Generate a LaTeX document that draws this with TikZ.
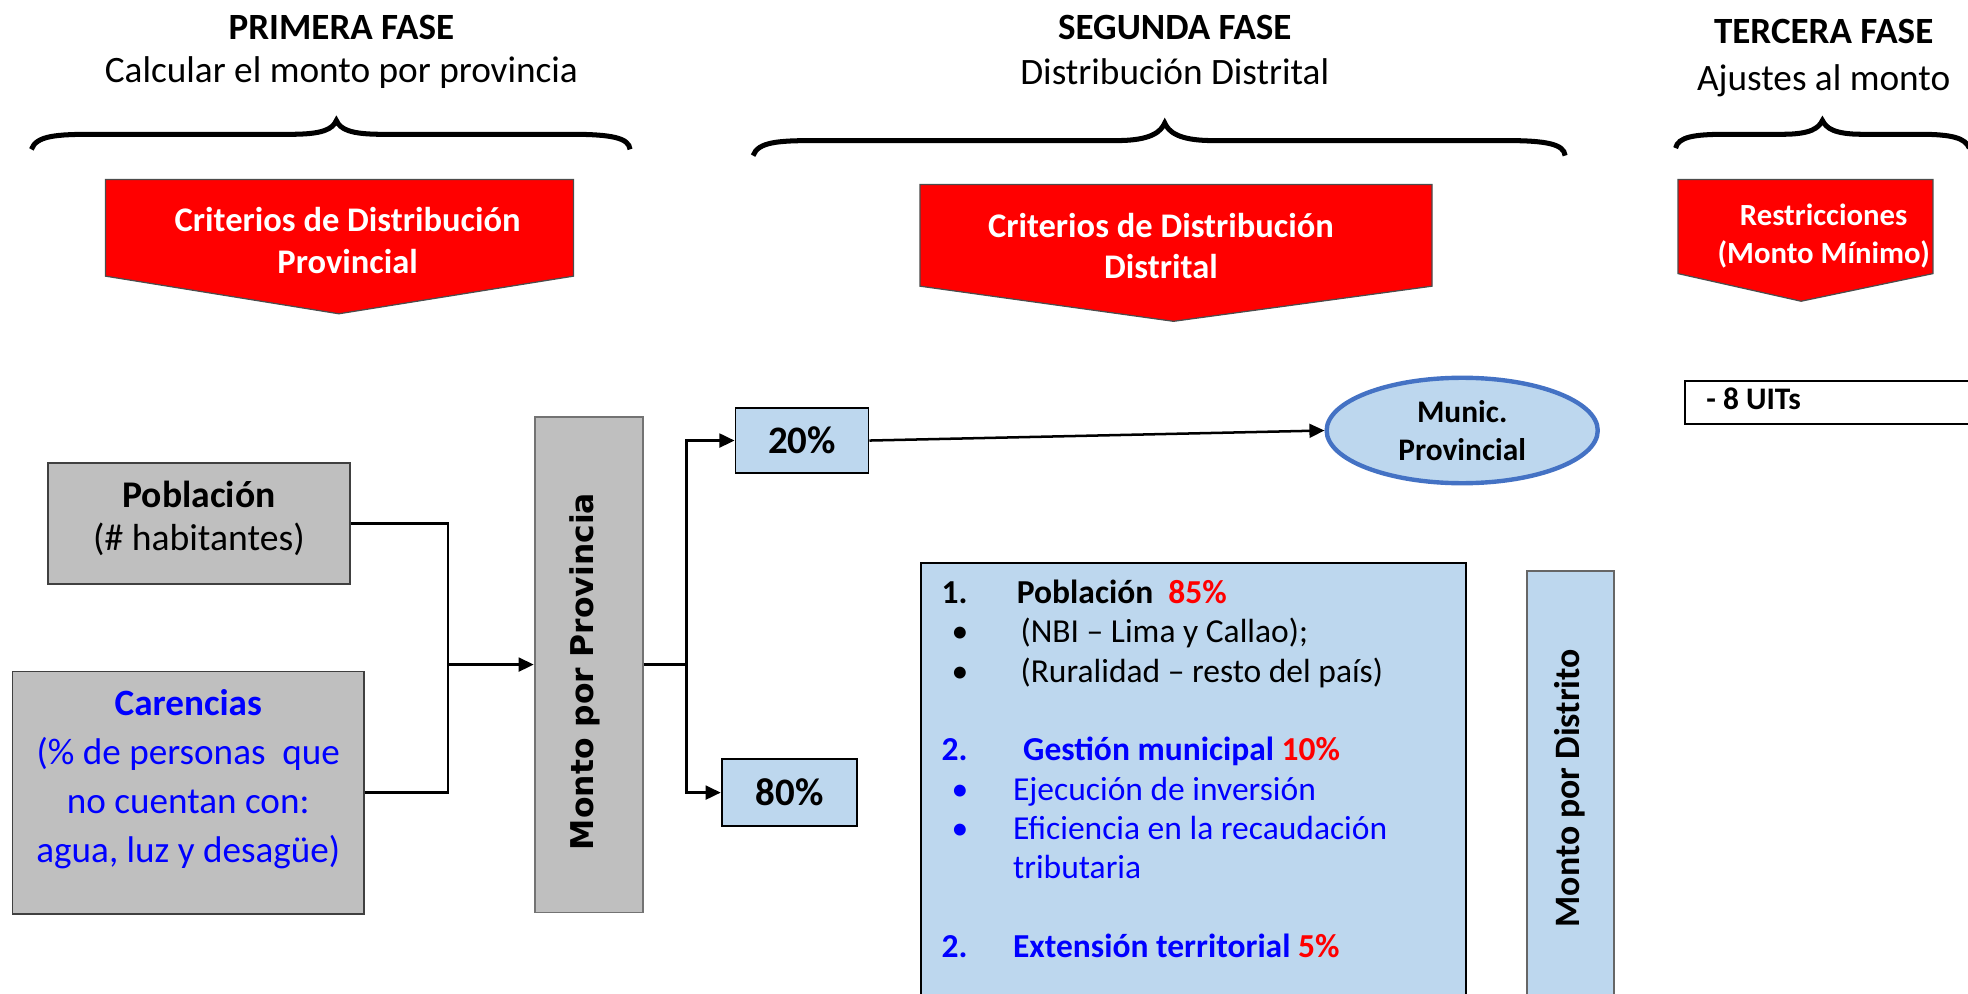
\documentclass[tikz,border=0pt]{standalone}
\usepackage{fontspec}
\setmainfont{Carlito}
\newfontfamily\dejavu{DejaVu Sans}
\usetikzlibrary{arrows.meta,shapes.geometric}
\definecolor{grayfill}{HTML}{BFBFBF}
\definecolor{lblue}{HTML}{BDD7EE}
\definecolor{eblue}{HTML}{4472C4}
\definecolor{pred}{HTML}{FF0000}
\definecolor{pblue}{HTML}{0000FF}
\newcommand{\fs}[2]{\fontsize{#1pt}{#2pt}\selectfont}
\begin{document}
\begin{tikzpicture}[x=1pt,y=-1pt,
  brace/.style={line width=4pt},
  redarrow/.style={fill=pred,draw=black!70,line width=1pt},
  redtext/.style={text=white,font=\fs{27.5}{33}\bfseries,align=center},
  graybox/.style={draw=black!75,fill=grayfill,line width=1.5pt,inner sep=0pt},
  bluebox/.style={draw=black,fill=lblue,line width=1.5pt,inner sep=0pt},
  conn/.style={line width=2pt},
  arr/.style={line width=2pt,-{Triangle[length=12pt,width=11pt]}},
  head/.style={font=\fs{29.5}{34}\bfseries},
  sub/.style={font=\fs{29.7}{34}}
]
\useasboundingbox (0,0) rectangle (1568,791.2);

% headers
\node[head] (h1) at (272,22) {PRIMERA FASE};
\node[sub] (s1) at (272,58) {Calcular el monto por provincia};
\node[head] (h2) at (936,22) {SEGUNDA FASE};
\node[sub] (s2) at (936,57) {Distribución Distrital};
\node[head] (h3) at (1453,25) {TERCERA FASE};
\node[sub] (s3) at (1453,64) {Ajustes al monto};

% braces
\draw[brace] (25,119) .. controls (29,108) and (45,107) .. (75,107) -- (232,107)
  .. controls (257,107) and (265,103) .. (268,96)
  .. controls (271,103) and (279,107) .. (304,107) -- (455,107)
  .. controls (488,107) and (501,110) .. (502,119);
\draw[brace] (600,124) .. controls (604,113) and (620,112) .. (650,112) -- (890,112)
  .. controls (917,112) and (925,105) .. (928,98)
  .. controls (931,105) and (939,112) .. (966,112) -- (1200,112)
  .. controls (1233,112) and (1246,115) .. (1247,124);
\draw[brace] (1335,118) .. controls (1337,109) and (1350,107) .. (1375,107) -- (1420,107)
  .. controls (1443,107) and (1449,102) .. (1452,96)
  .. controls (1455,102) and (1461,107) .. (1484,107) -- (1530,107)
  .. controls (1555,107) and (1566,110) .. (1569,118);

% red arrows
\draw[redarrow] (84,143) -- (457,143) -- (457,220) -- (270,250) -- (84,220) -- cycle;
\node[redtext] (r1) at (277,191.5) {Criterios de Distribución\\Provincial};
\draw[redarrow] (733,147) -- (1141,147) -- (1141,228) -- (935,256) -- (733,228) -- cycle;
\node[redtext] (r2) at (925,196) {Criterios de Distribución\\Distrital};
\draw[redarrow] (1337,143) -- (1540,143) -- (1540,218) -- (1435,240) -- (1337,218) -- cycle;
\node[redtext,font=\fs{24.5}{30}\bfseries] (r3) at (1453,188) {Restricciones\\(Monto Mínimo)};

% UIT box
\node[draw=black,line width=1.5pt,minimum width=240pt,minimum height=34pt,anchor=north west,inner sep=0pt] (uit) at (1342,303) {};
\node[font=\fs{25}{30}\bfseries,anchor=west] (uitt) at (1356,318) {- 8 UITs};

% left boxes
\node[graybox,minimum width=241pt,minimum height=96pt] (pob) at (158.5,417) {};
\node[font=\fs{30}{34},align=center] (pobt) at (158.5,413) {\textbf{Población}\\(\# habitantes)};
\node[graybox,minimum width=280pt,minimum height=193pt] (car) at (150,631.5) {};
\node[font=\fs{29.6}{39},text=pblue,align=center] (cart) at (150,621)
  {\textbf{Carencias}\\(\% de personas \ que\\no cuentan con:\\agua, luz y desagüe)};

\node[graybox,draw=black!55,minimum width=86pt,minimum height=395pt] (mp) at (469,529.5) {};
\node[rotate=90,font=\dejavu\fs{25}{30}\bfseries] (mpt) at (466,535) {Monto por Provincia};

\node[bluebox,minimum width=106pt,minimum height=52pt,font=\fs{31}{34}\bfseries] (p20) at (639,351) {20\%};
\node[bluebox,minimum width=108pt,minimum height=53pt,font=\fs{31}{34}\bfseries] (p80) at (629,631.5) {80\%};

\node[ellipse,draw=eblue,fill=lblue,line width=3.5pt,minimum width=216pt,minimum height=84pt,
  font=\fs{25}{30}\bfseries,align=center,inner sep=0pt] (munic) at (1165,343) {Munic.\\Provincial};

% criteria box
\node[bluebox,minimum width=434pt,minimum height=360pt,anchor=north west] (crit) at (733,448) {};
\node[anchor=north west,font=\fs{26.7}{31.3},align=left,inner sep=0pt] (critt) at (750,462) {%
\makebox[60pt][l]{\textbf{1.}}\textbf{Población}\ \ \textcolor{pred}{\textbf{85\%}}\\
\makebox[63pt][l]{\hspace{8pt}•}(NBI – Lima y Callao);\\
\makebox[63pt][l]{\hspace{8pt}•}(Ruralidad – resto del país)\\
\mbox{}\\
\textcolor{pblue}{\makebox[65pt][l]{\textbf{2.}}\textbf{Gestión municipal}} \textcolor{pred}{\textbf{10\%}}\\
\textcolor{pblue}{\makebox[57pt][l]{\hspace{8pt}•}Ejecución de inversión}\\
\textcolor{pblue}{\makebox[57pt][l]{\hspace{8pt}•}Eficiencia en la recaudación}\\
\textcolor{pblue}{\makebox[57pt][l]{}tributaria}\\
\mbox{}\\
\textcolor{pblue}{\makebox[57pt][l]{\textbf{2.}}\textbf{Extensión territorial}} \textcolor{pred}{\textbf{5\%}}};

\node[bluebox,draw=black!60,minimum width=69pt,minimum height=350pt,anchor=north west] (md) at (1216,454) {};
\node[rotate=90,font=\fs{28.5}{30}\bfseries] (mdt) at (1250.5,628) {Monto por Distrito};

% connectors
\coordinate (j1) at (357,529.5);
\coordinate (j2) at (547,529.5);
\draw[conn] (pob.east) -| (j1);
\draw[conn] (car.east) -| (j1);
\draw[arr] (j1) -- (mp.west);
\draw[conn] (mp.east) -- (j2);
\draw[arr] (j2) |- (p20.west);
\draw[arr] (j2) |- (p80.west);
\draw[arr] (p20.east) -- (munic.west);
\end{tikzpicture}
\end{document}
